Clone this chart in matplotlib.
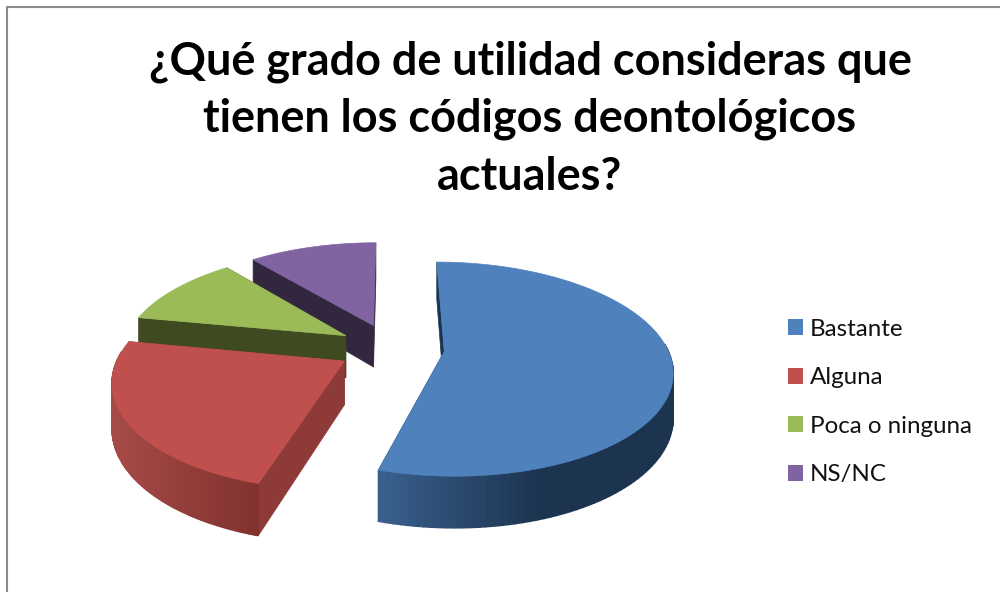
import numpy as np
import matplotlib
matplotlib.use("Agg")
import matplotlib.pyplot as plt
from matplotlib.patches import Patch, Polygon
from matplotlib.colors import to_rgb

title = "¿Qué grado de utilidad consideras que\ntienen los códigos deontológicos\nactuales?"
labels = ["Bastante", "Alguna", "Poca o ninguna", "NS/NC"]
values = [54.6, 23.4, 11.0, 11.0]

top_colors = ["#4f81bd", "#c0504d", "#9bbb59", "#8064a2"]
cut_colors = ["#1c3350", "#8e3a38", "#404a20", "#32273f"]
wall_light = ["#3a618f", "#a64b48", "#5f7a30", "#4a3a60"]
wall_dark = ["#1d3450", "#82322f", "#404a20", "#32273f"]

# pie geometry in picture pixels
cx, cy = 391, 348
rx, ry = 223, 103
persp = 0.163
explode = 0.24
depth = 43


def project(X, Y, z=0.0):
    w = 1 - persp * Y
    return cx + rx * X / w, cy + (ry * Y + depth * z) / w


def mix(c1, c2, t):
    a, b = np.array(to_rgb(c1)), np.array(to_rgb(c2))
    return tuple(a + (b - a) * t)


def slice_points(a0, a1):
    mid = np.radians((a0 + a1) / 2)
    ox, oy = explode * np.sin(mid), -explode * np.cos(mid)
    ang = np.linspace(a0, a1, 120)
    rad = np.radians(ang)
    return ox, oy, ang, ox + np.sin(rad), oy - np.cos(rad)


def draw_slice(ax, i, a0, a1):
    ox, oy, ang, X, Y = slice_points(a0, a1)
    sx, sy = project(X, Y)
    bx, by = project(X, Y, 1)
    ax0, ay0 = project(ox, oy)
    ax1, ay1 = project(ox, oy, 1)
    z = 10 + i_order[i]

    # the two cut faces
    for ex, ey, fx, fy in [(sx[0], sy[0], bx[0], by[0]), (sx[-1], sy[-1], bx[-1], by[-1])]:
        ax.add_patch(Polygon([(ax0, ay0), (ex, ey), (fx, fy), (ax1, ay1)],
                             fc=cut_colors[i], ec=cut_colors[i], lw=0.5, zorder=z))

    # outer wall, only the part facing us, shaded left to right
    xmin, xmax = wall_range[i]
    for k in range(len(sx) - 1):
        if ang[k] < 85 or ang[k] > 275:
            continue
        t = np.clip((sx[k] - xmin) / (xmax - xmin), 0, 1)
        c = mix(wall_light[i], wall_dark[i], t)
        ax.add_patch(Polygon([(sx[k], sy[k]), (sx[k + 1], sy[k + 1]), (bx[k + 1], by[k + 1]), (bx[k], by[k])],
                             fc=c, ec=c, lw=1.0, zorder=z + 0.2))

    pts = [(ax0, ay0)] + list(zip(sx, sy))
    ax.add_patch(Polygon(pts, fc=top_colors[i], ec=top_colors[i], lw=0.5, zorder=z + 0.5))


# back to front
i_order = [2, 3, 1, 0]
wall_range = [(378, 540), (111, 257), (140, 345), (250, 375)]

fig = plt.figure(figsize=(10, 5.92), dpi=100)
ax = fig.add_axes([0, 0, 1, 1])
ax.set_xlim(0, 1000)
ax.set_ylim(592, 0)
ax.axis("off")

# chart frame
ax.plot([7, 7, 1000], [592, 6.5, 6.5], color="#8a8a8a", lw=1.5)

angles = np.concatenate([[0], np.cumsum(values) / np.sum(values) * 360])
for i in range(len(values)):
    draw_slice(ax, i, angles[i], angles[i + 1])

ax.text(530, 119, title, ha="center", va="center", fontsize=32.4, fontweight="bold",
        family="Lato", color="black", linespacing=1.45)

handles = [Patch(fc=c, ec="none", label=l) for c, l in zip(top_colors, labels)]
ax.legend(handles=handles, loc="center left", bbox_to_anchor=(0.788, 0.321), frameon=False,
          prop={"family": "Lato", "size": 17.4}, handlelength=0.62, handleheight=0.62,
          handletextpad=0.3, labelspacing=1.14, borderpad=0, borderaxespad=0, labelcolor="#111111")

fig.savefig("out.png", dpi=100)
